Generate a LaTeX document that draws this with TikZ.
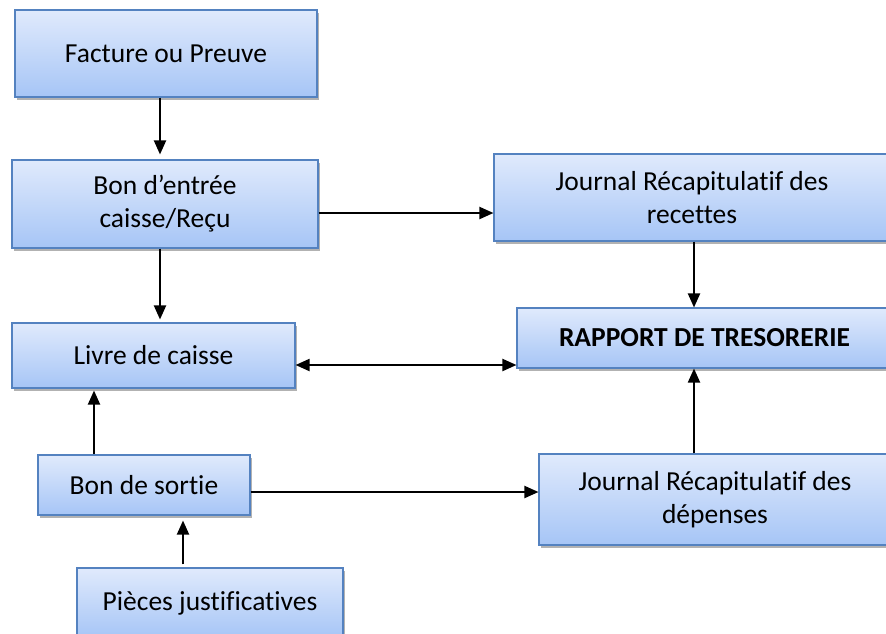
\documentclass[tikz,border=0pt]{standalone}
\usepackage{fontspec}
\setmainfont{Carlito}[Ligatures=NoCommon]
\usetikzlibrary{arrows.meta,shadows}
\definecolor{boxtop}{RGB}{224,234,252}
\definecolor{boxbot}{RGB}{166,197,246}
\definecolor{boxline}{RGB}{84,130,192}
\tikzset{
  box/.style={draw=boxline, line width=1.1pt, top color=boxtop, bottom color=boxbot,
    rectangle, align=center, inner sep=0pt, font=\fontsize{27.5}{33}\selectfont,
    drop shadow={shadow xshift=2pt, shadow yshift=-3pt, opacity=0.3, fill=black}},
  arr/.style={line width=2pt, -{Triangle[length=14pt,width=12pt]}},
  darr/.style={line width=2pt, {Triangle[length=14pt,width=12pt]}-{Triangle[length=14pt,width=12pt]}}
}
\begin{document}
\begin{tikzpicture}[x=1pt,y=-1pt]
\clip (0,0) rectangle (886,633);
\fill[white] (0,0) rectangle (886,633);
% boxes
\node[box, minimum width=302, minimum height=87] (fact) at (166,53.5) {\raisebox{-2pt}{Facture ou Preuve}};
\node[box, minimum width=306, minimum height=88] (bon) at (165,204) {\raisebox{-3pt}{Bon d’entrée}\\\raisebox{-3pt}{caisse/Reçu}};
\node[box, minimum width=396, minimum height=87] (jrec) at (692,197.5) {Journal Récapitulatif des\\recettes};
\node[box, minimum width=375, minimum height=60] (rap) at (704.5,338) {\bfseries RAPPORT DE TRESORERIE};
\node[box, minimum width=283, minimum height=65] (livre) at (153.5,355.5) {Livre de caisse};
\node[box, minimum width=212, minimum height=60] (sortie) at (144,485) {Bon de sortie};
\node[box, minimum width=352, minimum height=91] (jdep) at (715,499.5) {Journal Récapitulatif des\\dépenses};
\node[box, minimum width=266, minimum height=70] (piece) at (210,603) {Pièces justificatives};
% connectors
\draw[arr, shorten >=5pt] ([xshift=-6pt]fact.south) -- ([xshift=-5pt]bon.north);
\draw[arr] (bon.east |- 0,213) -- (jrec.west |- 0,213);
\draw[arr, shorten >=3pt] ([xshift=-5pt]bon.south) -- ([xshift=-5pt]bon.south |- livre.north);
\draw[arr] (jrec.south -| 694,0) -- (rap.north -| 694,0);
\draw[darr] (livre.east |- 0,365) -- (rap.west |- 0,365);
\draw[arr, shorten >=2pt] (sortie.north -| 94,0) -- (livre.south -| 94,0);
\draw[arr] (sortie.east |- 0,492) -- (jdep.west |- 0,492);
\draw[arr] (jdep.north -| 694,0) -- (rap.south -| 694,0);
\draw[arr, shorten <=3pt, shorten >=5pt] (piece.north -| 183,0) -- (sortie.south -| 183,0);
\end{tikzpicture}
\end{document}
